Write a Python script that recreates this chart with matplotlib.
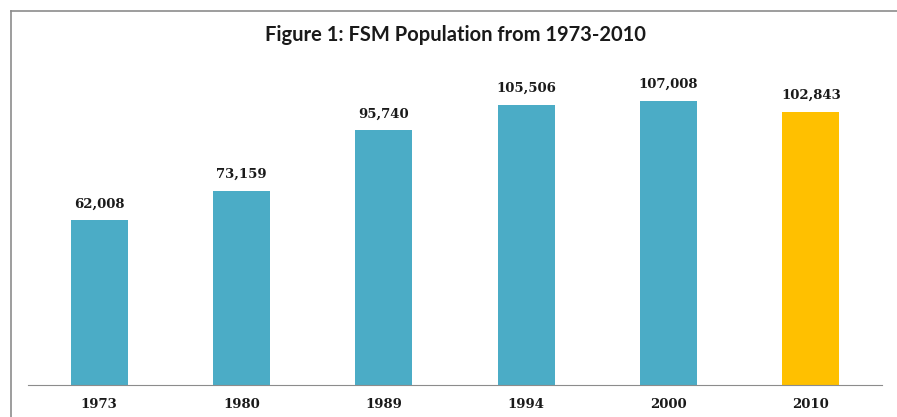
import matplotlib.pyplot as plt
from matplotlib.lines import Line2D

years = ['1973', '1980', '1989', '1994', '2000', '2010']
population = [62008, 73159, 95740, 105506, 107008, 102843]
colors = ['#4BACC6'] * 5 + ['#FFC000']

fig = plt.figure(figsize=(8.97, 4.17), dpi=100)
# frame: only top and left edges are visible in the crop
bx, by = 10.5 / 897, 1 - 10.5 / 417
fig.add_artist(Line2D([bx, 1], [by, by], transform=fig.transFigure,
                      color='#8c8c8c', linewidth=1.2))
fig.add_artist(Line2D([bx, bx], [0, by], transform=fig.transFigure,
                      color='#8c8c8c', linewidth=1.2))

ax = fig.add_axes([28 / 897, 1 - 385 / 417, 854 / 897, 319 / 417])
x = range(len(years))
bars = ax.bar(x, population, width=0.4, color=colors)
ax.set_xlim(-0.5, len(years) - 0.5)
ax.set_ylim(0, 120000)

for b, v in zip(bars, population):
    ax.annotate(f'{v:,}', (b.get_x() + b.get_width() / 2, v),
                xytext=(0, 7), textcoords='offset points',
                ha='center', va='bottom', fontsize=9.5, fontweight='bold',
                family='DejaVu Serif', color='#1a1a1a')

ax.set_xticks(list(x))
ax.set_xticklabels(years, family='DejaVu Serif', fontsize=9.5,
                   fontweight='bold', color='#1a1a1a')
ax.tick_params(axis='x', length=0, pad=9)
ax.set_yticks([])
for s in ['top', 'right', 'left']:
    ax.spines[s].set_visible(False)
ax.spines['bottom'].set_color('#8c8c8c')

fig.text(455 / 897, 1 - 35 / 417, 'Figure 1: FSM Population from 1973-2010',
         ha='center', va='center', fontsize=14.5, fontweight='bold',
         family='Lato', color='#1a1a1a')

fig.savefig('out.png', dpi=100)
